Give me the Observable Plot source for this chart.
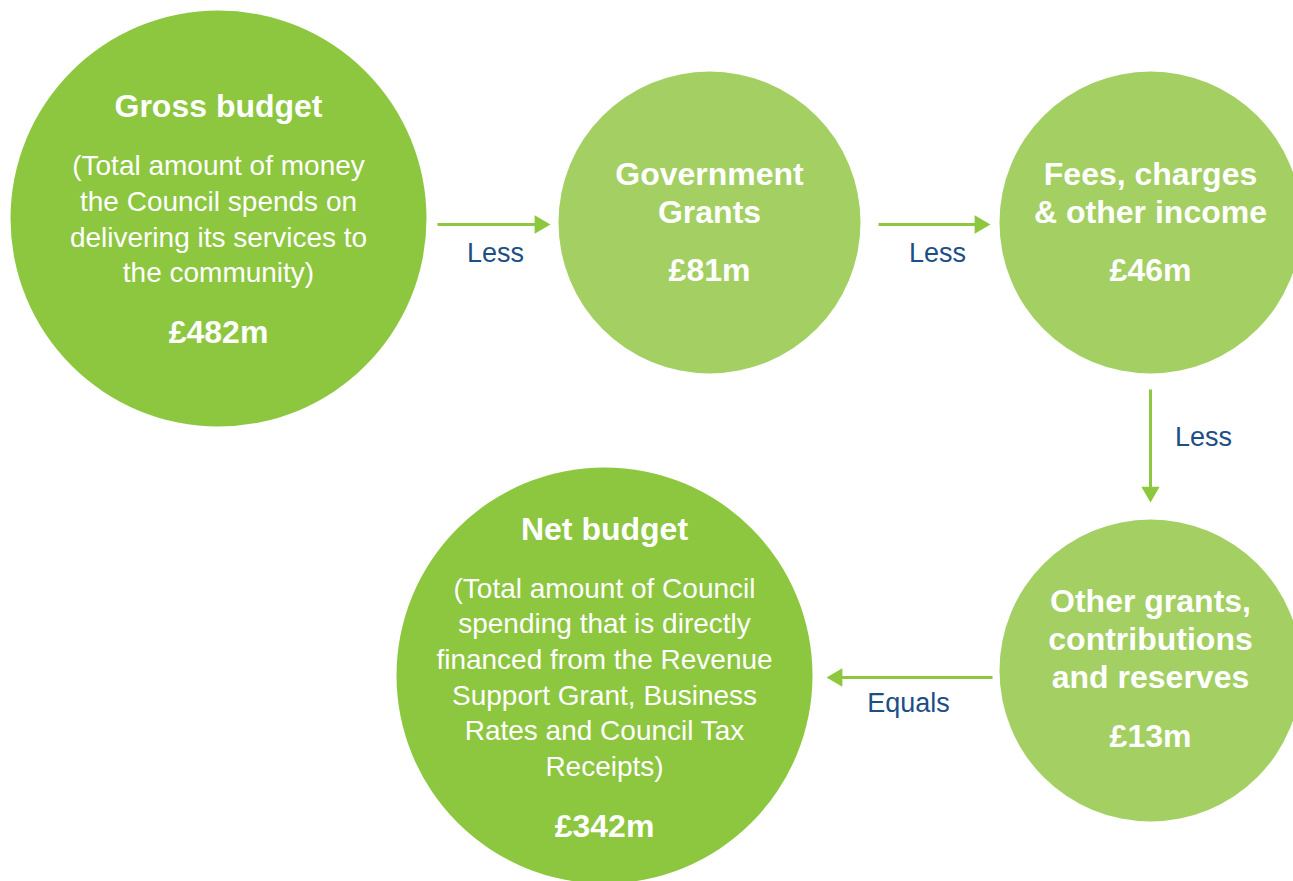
<!DOCTYPE html>
<html>
<head>
<meta charset="utf-8">
<script src="https://cdn.jsdelivr.net/npm/d3@7"></script>
<script src="https://cdn.jsdelivr.net/npm/@observablehq/plot@0.6"></script>
<style>
  html, body { margin: 0; padding: 0; background: #ffffff; }
  #chart svg { display: block; }
</style>
</head>
<body>
<div id="chart"></div>
<script>
// ---- data ----
const stages = ["Gross budget", "Government Grants", "Fees, charges & other income", "Other grants, contributions and reserves", "Net budget"];
const titleLines = ["Gross budget", "Government\nGrants", "Fees, charges\n& other income", "Other grants,\ncontributions\nand reserves", "Net budget"];
const amounts = [482, 81, 46, 13, 342]; // £m
const descriptions = [
  "(Total amount of money\nthe Council spends on\ndelivering its services to\nthe community)",
  "", "", "",
  "(Total amount of Council\nspending that is directly\nfinanced from the Revenue\nSupport Grant, Business\nRates and Council Tax\nReceipts)"
];
const kinds = ["total", "deduction", "deduction", "deduction", "total"];
const connectorLabels = ["Less", "Less", "Less", "Equals"];

// ---- layout (diagram geometry, separate from the data) ----
const nodeLayout = [
  {cx: 218,  cy: 218, titleY: 104, descY: 217, amountY: 332},
  {cx: 709,  cy: 222, titleY: 191, descY: 0,   amountY: 270},
  {cx: 1150, cy: 222, titleY: 191, descY: 0,   amountY: 270},
  {cx: 1150, cy: 670, titleY: 637, descY: 0,   amountY: 736},
  {cx: 604,  cy: 675, titleY: 527, descY: 675, amountY: 826}
];
const radius = {total: 208, deduction: 151};
const arrowLayout = [
  {x1: 437,  y1: 224, x2: 550,  y2: 224, lx: 495,  ly: 253},
  {x1: 878,  y1: 224, x2: 990,  y2: 224, lx: 937,  ly: 253},
  {x1: 1150, y1: 389, x2: 1150, y2: 502, lx: 1203, ly: 437},
  {x1: 992,  y1: 677, x2: 826,  y2: 677, lx: 908,  ly: 703}
];

const colors = {total: "#8dc63f", deduction: "#a3cf63"};
const arrowColor = "#8dc63f";
const labelColor = "#1d4f85";
const font = "'Liberation Sans', Arial, Helvetica, sans-serif";

const nodes = stages.map((s, i) => ({
  stage: s,
  title: titleLines[i],
  amount: "£" + amounts[i] + "m",
  desc: descriptions[i],
  kind: kinds[i],
  ...nodeLayout[i]
}));

const headR = 6.8;
const tipOffset = 2 * Math.sqrt(Math.PI * headR * headR / (3 * Math.sqrt(3)));
const arrows = connectorLabels.map((label, i) => {
  const a = arrowLayout[i];
  const dx = Math.sign(a.x2 - a.x1), dy = Math.sign(a.y2 - a.y1);
  const rot = Math.atan2(dy, dx) * 180 / Math.PI + 90;
  return {
    label, ...a, rot,
    hx: a.x2 - dx * tipOffset, hy: a.y2 - dy * tipOffset,
    lx2: a.x2 - dx * 14, ly2: a.y2 - dy * 14
  };
});

const chart = Plot.plot({
  width: 1293,
  height: 881,
  margin: 0,
  x: {domain: [0, 1293], range: [0, 1293], axis: null},
  y: {domain: [0, 881], range: [0, 881], axis: null},
  style: {fontFamily: font, background: "#ffffff"},
  marks: [
    Plot.dot(nodes.filter(d => d.kind === "total"), {x: "cx", y: "cy", r: radius.total, fill: colors.total, stroke: "none"}),
    Plot.dot(nodes.filter(d => d.kind === "deduction"), {x: "cx", y: "cy", r: radius.deduction, fill: colors.deduction, stroke: "none"}),
    Plot.text(nodes, {x: "cx", y: "titleY", text: "title", fill: "white", fontSize: 32, fontWeight: "bold", lineHeight: 38 / 32, lineAnchor: "middle", fontFamily: font}),
    Plot.text(nodes.filter(d => d.desc), {x: "cx", y: "descY", text: "desc", fill: "white", fontSize: 28, lineHeight: 35.7 / 28, lineAnchor: "middle", fontFamily: font}),
    Plot.text(nodes, {x: "cx", y: "amountY", text: "amount", fill: "white", fontSize: 32, fontWeight: "bold", lineAnchor: "middle", fontFamily: font}),
    Plot.link(arrows, {x1: "x1", y1: "y1", x2: "lx2", y2: "ly2", stroke: arrowColor, strokeWidth: 3}),
    Plot.dot(arrows, {x: "hx", y: "hy", symbol: "triangle", r: headR, rotate: "rot", fill: arrowColor, stroke: "none"}),
    Plot.text(arrows, {x: "lx", y: "ly", text: "label", fill: labelColor, fontSize: 27, lineAnchor: "middle", fontFamily: font})
  ]
});
document.getElementById("chart").appendChild(chart);
</script>
</body>
</html>
